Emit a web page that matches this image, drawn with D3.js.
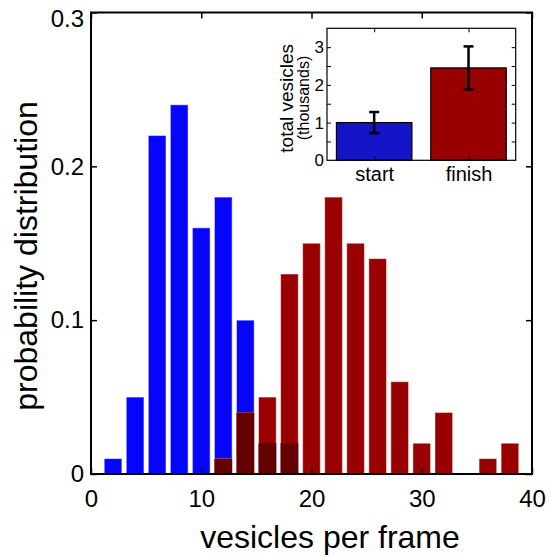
<!DOCTYPE html>
<html>
<head>
<meta charset="utf-8">
<script src="https://cdn.jsdelivr.net/npm/d3@7"></script>
<style>
  html, body { margin: 0; padding: 0; background: #fff; }
  svg { display: block; }
  text { font-family: "Liberation Sans", Arial, Helvetica, sans-serif; fill: #000; }
</style>
</head>
<body>
<svg id="chart" width="550" height="558"></svg>
<script>
// Histogram bins (vesicles per frame, bin centres)
const binCenters = [2, 4, 6, 8, 10, 12, 14, 16, 18, 20, 22, 24, 26, 28, 30, 32, 34, 36, 38];
// Probability distribution at the start of the recording
const startDist  = [0.01, 0.05, 0.22, 0.24, 0.16, 0.18, 0.10, 0.02, 0.02, 0, 0, 0, 0, 0, 0, 0, 0, 0, 0];
// Probability distribution at the end of the recording
const finishDist = [0, 0, 0, 0, 0, 0.01, 0.04, 0.05, 0.13, 0.15, 0.18, 0.15, 0.14, 0.06, 0.02, 0.04, 0, 0.01, 0.02];

const xTicks = [0, 10, 20, 30, 40];
const yTicks = [0, 0.1, 0.2, 0.3];
const yTickLabels = ["0", "0.1", "0.2", "0.3"];

// Inset: total vesicle counts (thousands)
const insetCategories = ["start", "finish"];
const insetTotals = [1.0, 2.45];
const insetErrors = [0.28, 0.57];
const insetTicks = [0, 1, 2, 3];
const insetMinorTicks = [0.5, 1, 1.5, 2, 2.5, 3];

const svg = d3.select("#chart");

// ---------- main histogram ----------
const mLeft = 91, mRight = 532, mTop = 12.5, mBottom = 474;
const x = d3.scaleLinear().domain([0, 40]).range([mLeft, mRight]);
const y = d3.scaleLinear().domain([0, 0.3]).range([mBottom, mTop]);
const halfBar = 0.8;

const bins = binCenters.map((c, i) => ({ c, s: startDist[i], f: finishDist[i] }));

function barRect(sel, key) {
  sel.attr("x", d => x(d.c - halfBar))
     .attr("width", d => x(d.c + halfBar) - x(d.c - halfBar))
     .attr("y", d => y(d[key]))
     .attr("height", d => y(0) - y(d[key]));
}

const plot = svg.append("g");
plot.selectAll("rect.start").data(bins.filter(d => d.s > 0)).join("rect")
  .attr("class", "start").call(barRect, "s")
  .attr("fill", "#0505ff").attr("stroke", "rgba(255,255,255,0.45)").attr("stroke-width", 1);
plot.selectAll("rect.finish").data(bins.filter(d => d.f > 0)).join("rect")
  .attr("class", "finish").call(barRect, "f")
  .attr("fill", "#990000").attr("stroke", "rgba(255,255,255,0.45)").attr("stroke-width", 1);
// overlapping part of the two distributions
const overlap = bins.filter(d => d.s > 0 && d.f > 0).map(d => ({ c: d.c, o: Math.min(d.s, d.f) }));
plot.selectAll("rect.overlap").data(overlap).join("rect")
  .attr("class", "overlap").call(barRect, "o")
  .attr("fill", "#650000");

// axes (ticks point inward)
const axisFont = 24;
const gx = svg.append("g").attr("transform", `translate(0,${mBottom})`)
  .call(d3.axisBottom(x).tickValues(xTicks).tickSize(-6).tickSizeOuter(0).tickPadding(16).tickFormat(d3.format("d")));
const gy = svg.append("g").attr("transform", `translate(${mLeft},0)`)
  .call(d3.axisLeft(y).tickValues(yTicks).tickSize(-6).tickSizeOuter(0).tickPadding(7)
    .tickFormat((d, i) => yTickLabels[i]));
const gxt = svg.append("g").attr("transform", `translate(0,${mTop})`)
  .call(d3.axisTop(x).tickValues(xTicks).tickSize(-6).tickSizeOuter(0).tickFormat(""));
const gyr = svg.append("g").attr("transform", `translate(${mRight},0)`)
  .call(d3.axisRight(y).tickValues(yTicks).tickSize(-6).tickSizeOuter(0).tickFormat(""));
[gx, gy, gxt, gyr].forEach(g => {
  g.select(".domain").remove();
  g.selectAll(".tick line").attr("stroke", "#000").attr("stroke-width", 1.5);
  g.selectAll(".tick text").style("font-size", axisFont + "px")
    .style("font-family", '"Liberation Sans", Arial, Helvetica, sans-serif').attr("fill", "#000");
});
// keep the top label inside the figure
gy.selectAll(".tick text").filter(d => d === 0.3).attr("dy", "0.57em");

svg.append("rect").attr("x", mLeft).attr("y", mTop)
  .attr("width", mRight - mLeft).attr("height", mBottom - mTop)
  .attr("fill", "none").attr("stroke", "#000").attr("stroke-width", 2);

svg.append("text").attr("x", 330).attr("y", 548).attr("text-anchor", "middle")
  .style("font-size", "32px").text("vesicles per frame");
svg.append("text").attr("transform", "translate(37,256) rotate(-90)").attr("text-anchor", "middle")
  .style("font-size", "32px").text("probability distribution");

// ---------- inset bar chart ----------
const iL = 327, iR = 515.7, iT = 28.3, iB = 160.3;
const ix = d3.scaleLinear().domain([0.5, 2.5]).range([iL, iR]);
const iy = d3.scaleLinear().domain([0, 3.5]).range([iB, iT]);
const inset = svg.append("g");
inset.append("rect").attr("x", iL).attr("y", iT).attr("width", iR - iL).attr("height", iB - iT)
  .attr("fill", "#fff");

const insetData = insetCategories.map((name, i) => ({ pos: i + 1, name, v: insetTotals[i], e: insetErrors[i] }));
const insetColors = ["#1414c8", "#990000"];
inset.selectAll("rect.tot").data(insetData).join("rect")
  .attr("class", "tot")
  .attr("x", d => ix(d.pos - 0.4)).attr("width", d => ix(d.pos + 0.4) - ix(d.pos - 0.4))
  .attr("y", d => iy(d.v)).attr("height", d => iy(0) - iy(d.v))
  .attr("fill", (d, i) => insetColors[i]).attr("stroke", "#000").attr("stroke-width", 1.2);

// error bars
const eb = inset.selectAll("g.err").data(insetData).join("g").attr("class", "err")
  .attr("stroke", "#000").attr("stroke-width", 2.5);
eb.append("line").attr("x1", d => ix(d.pos)).attr("x2", d => ix(d.pos))
  .attr("y1", d => iy(d.v - d.e)).attr("y2", d => iy(d.v + d.e));
eb.append("line").attr("x1", d => ix(d.pos) - 5).attr("x2", d => ix(d.pos) + 5)
  .attr("y1", d => iy(d.v + d.e)).attr("y2", d => iy(d.v + d.e));
eb.append("line").attr("x1", d => ix(d.pos) - 5).attr("x2", d => ix(d.pos) + 5)
  .attr("y1", d => iy(d.v - d.e)).attr("y2", d => iy(d.v - d.e));

// inset axes
const iyl = inset.append("g").attr("transform", `translate(${iL},0)`)
  .call(d3.axisLeft(iy).tickValues(insetMinorTicks).tickSize(-4).tickSizeOuter(0).tickFormat(""));
const iyr = inset.append("g").attr("transform", `translate(${iR},0)`)
  .call(d3.axisRight(iy).tickValues(insetMinorTicks).tickSize(-4).tickSizeOuter(0).tickFormat(""));
const iyLab = inset.append("g").attr("transform", `translate(${iL},0)`)
  .call(d3.axisLeft(iy).tickValues(insetTicks).tickSize(0).tickSizeOuter(0).tickPadding(3).tickFormat(d3.format("d")));
const ixb = inset.append("g").attr("transform", `translate(0,${iB})`)
  .call(d3.axisBottom(ix).tickValues([1, 2]).tickSize(-4).tickSizeOuter(0).tickPadding(7)
    .tickFormat(d => insetCategories[d - 1]));
const ixt = inset.append("g").attr("transform", `translate(0,${iT})`)
  .call(d3.axisTop(ix).tickValues([1, 2]).tickSize(-4).tickSizeOuter(0).tickFormat(""));
[iyl, iyr, iyLab, ixb, ixt].forEach(g => {
  g.select(".domain").remove();
  g.selectAll(".tick line").attr("stroke", "#000").attr("stroke-width", 1);
  g.selectAll(".tick text").attr("fill", "#000")
    .style("font-family", '"Liberation Sans", Arial, Helvetica, sans-serif');
});
iyLab.selectAll(".tick text").style("font-size", "17px");
ixb.selectAll(".tick text").style("font-size", "20px");

inset.append("rect").attr("x", iL).attr("y", iT).attr("width", iR - iL).attr("height", iB - iT)
  .attr("fill", "none").attr("stroke", "#000").attr("stroke-width", 1.2);

inset.append("text").attr("transform", "translate(293,98.3) rotate(-90)").attr("text-anchor", "middle")
  .style("font-size", "19px").text("total vesicles");
inset.append("text").attr("transform", "translate(308.5,98) rotate(-90)").attr("text-anchor", "middle")
  .style("font-size", "16px").text("(thousands)");
</script>
</body>
</html>
